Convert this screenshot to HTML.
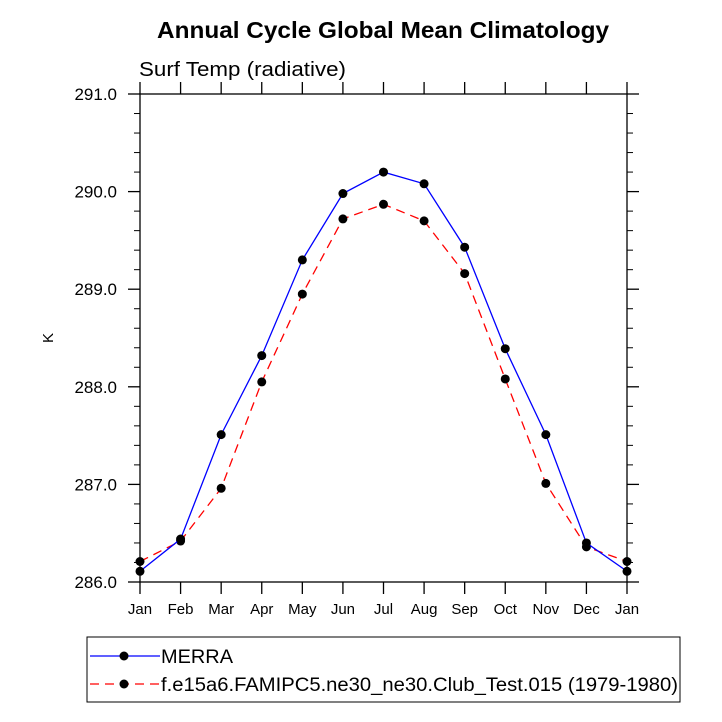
<!DOCTYPE html>
<html><head><meta charset="utf-8"><style>body{margin:0;background:#fff}svg{display:block;font-family:"Liberation Sans",sans-serif}</style></head>
<body>
<svg id="c" width="722" height="722" viewBox="0 0 722 722">
<text x="157" y="38" font-size="23" font-weight="bold" textLength="452" lengthAdjust="spacingAndGlyphs">Annual Cycle Global Mean Climatology</text>
<text x="139" y="76" font-size="20" textLength="207" lengthAdjust="spacingAndGlyphs">Surf Temp (radiative)</text>
<text x="53" y="338" font-size="15" text-anchor="middle" transform="rotate(-90 53 338)">K</text>
<g id="axes"></g><g id="series"></g>
<g>
<rect x="87" y="637" width="593" height="65" fill="none" stroke="#000" stroke-width="1"/>
<g>
<line x1="90" y1="656" x2="160" y2="656" stroke="#0000ff" stroke-width="1.3"/>
<circle cx="124" cy="656" r="4.5" fill="#000"/>
<text x="161" y="663" font-size="19" textLength="72" lengthAdjust="spacingAndGlyphs">MERRA</text></g>
<g>
<line x1="90" y1="684" x2="160" y2="684" stroke="#ff0000" stroke-width="1.3" stroke-dasharray="9,6"/>
<circle cx="124" cy="684" r="4.5" fill="#000"/>
<text x="161" y="691" font-size="19" textLength="517" lengthAdjust="spacingAndGlyphs">f.e15a6.FAMIPC5.ne30_ne30.Club_Test.015 (1979-1980)</text></g>
</g>
</svg>
<script>
const months=["Jan","Feb","Mar","Apr","May","Jun","Jul","Aug","Sep","Oct","Nov","Dec","Jan"];
const merra=[286.11,286.44,287.51,288.32,289.30,289.98,290.20,290.08,289.43,288.39,287.51,286.40,286.11];
const model=[286.21,286.42,286.96,288.05,288.95,289.72,289.87,289.70,289.16,288.08,287.01,286.36,286.21];
const yTicks=["286.0","287.0","288.0","289.0","290.0","291.0"];
const L=140,R=627,T=94,B=582,ymin=286,ymax=291;
const xs=i=>L+(R-L)*i/(months.length-1);
const ys=v=>B-(v-ymin)/(ymax-ymin)*(B-T);
const NS="http://www.w3.org/2000/svg";
function mk(p,t,a){const e=document.createElementNS(NS,t);for(const k in a)e.setAttribute(k,a[k]);p.appendChild(e);return e;}
const ax=document.getElementById('axes');
const box=mk(ax,'rect',{x:L,y:T,width:R-L,height:B-T,fill:'none',stroke:'#000','stroke-width':1.3});


for(let v=ymin;v<=ymax+1e-6;v+=0.2){const y=ys(v);const maj=Math.abs(v-Math.round(v))<1e-6;const len=maj?12:6;
mk(ax,'line',{x1:L-len,y1:y,x2:L,y2:y,stroke:'#000','stroke-width':maj?1.3:1});
mk(ax,'line',{x1:R,y1:y,x2:R+len,y2:y,stroke:'#000','stroke-width':maj?1.3:1});}
yTicks.forEach(s=>{const t=mk(ax,'text',{x:L-23,y:ys(+s)+6,'text-anchor':'end','font-size':17});t.textContent=s;

});
months.forEach((m,i)=>{const x=xs(i);
mk(ax,'line',{x1:x,y1:B,x2:x,y2:B+12,stroke:'#000','stroke-width':1.3});
mk(ax,'line',{x1:x,y1:T-12,x2:x,y2:T,stroke:'#000','stroke-width':1.3});
const t=mk(ax,'text',{x:x,y:B+32,'text-anchor':'middle','font-size':15});t.textContent=m;

});
const sg=document.getElementById('series');
function series(d,col,dash,name){const g=mk(sg,'g',{});


const a={points:d.map((v,i)=>xs(i)+','+ys(v)).join(' '),fill:'none',stroke:col,'stroke-width':1.3};if(dash)a['stroke-dasharray']=dash;mk(g,'polyline',a);
d.forEach((v,i)=>{const c=mk(g,'circle',{cx:xs(i),cy:ys(v),r:4.5,fill:'#000'});

});}
series(model,'#ff0000','9,6','series-model');
series(merra,'#0000ff',null,'series-merra');
</script>
</body></html>
